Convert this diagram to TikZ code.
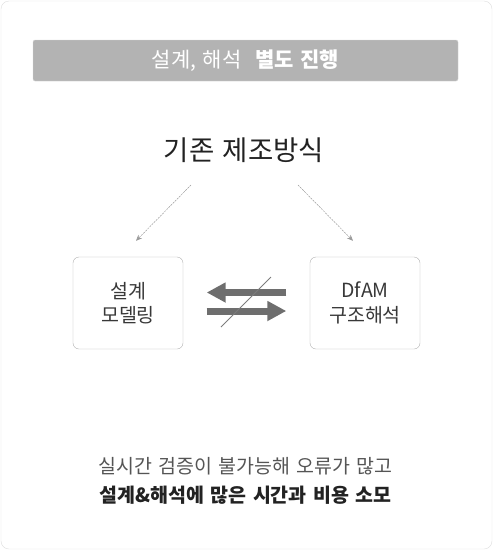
\documentclass[tikz,border=0pt]{standalone}
\usepackage{fontspec}
\setmainfont{Noto Sans CJK KR}[WordSpace=1.4]
\usepackage{tikz}
\usetikzlibrary{arrows.meta,positioning,calc}
\definecolor{frameline}{HTML}{DDDDDD}
\definecolor{bannergray}{HTML}{B3B3B3}
\definecolor{boxline}{HTML}{B0B0B0}
\definecolor{fatgray}{HTML}{6E6E6E}
\definecolor{hintgray}{HTML}{9A9A9A}
\definecolor{inkdark}{HTML}{222222}
\definecolor{inkmid}{HTML}{555555}

\begin{document}
\begin{tikzpicture}[x=1pt,y=-1pt,
			stage/.style={draw=boxline,rounded corners=6pt,minimum width=110pt,minimum height=92pt,align=center,font=\fontsize{19.5}{24.5}\selectfont,text=inkdark!90},
			hint/.style={-{Stealth[length=6pt,width=5pt]},dash pattern=on 2pt off 1pt,hintgray,line width=0.5pt},
			fat/.style={-{Triangle[length=19pt,width=19pt]},line width=7pt,fatgray,shorten <=23.5pt,shorten >=23.5pt}
			]
			\useasboundingbox (0,0) rectangle (493,550);
			\draw[frameline,rounded corners=8pt] (1,1) rectangle (492,549);
			% banner
			\node[fill=bannergray,draw=frameline!80!bannergray,rounded corners=2pt,minimum width=425pt,minimum height=41pt,text=white,font=\fontsize{21}{22}\selectfont] (banner) at (245.5,60.5) {설계, 해석\,\, \textbf{별도 진행}};
			\node[font=\fontsize{27.5}{30}\selectfont,text=inkdark] (base) at (244,150) {기존 제조방식};
			% two stages
			\node[stage] (mdl) at (128,303) {설계\\모델링};
			\node[stage] (dfam) at (365,303) {DfAM\\구조해석};
			\coordinate (ls) at (191,185);
			\coordinate (rs) at (298,185);
			\draw[hint] (ls) -- ($(mdl.north)+(8,-16)$);
			\draw[hint] (rs) -- ($(dfam.north)+(-12,-16)$);
			% no exchange between them
			\draw[fat] ([yshift=10.5pt]dfam.west) -- ([yshift=10.5pt]mdl.east);
			\draw[fat] ([yshift=-8pt]mdl.east) -- ([yshift=-8pt]dfam.west);
			\draw[fatgray!90,line width=0.9pt] (221,327) -- (271,277);
			% summary
			\node[font=\fontsize{19.5}{22}\selectfont,text=inkmid] (why) at (245.5,466) {실시간 검증이 불가능해 오류가 많고};
			\node[font=\fontsize{19.5}{22}\selectfont\bfseries,text=inkdark,below=29pt of why.base,anchor=base] (cost) {설계\&해석에 많은 시간과 비용 소모};
		\end{tikzpicture}
\end{document}
